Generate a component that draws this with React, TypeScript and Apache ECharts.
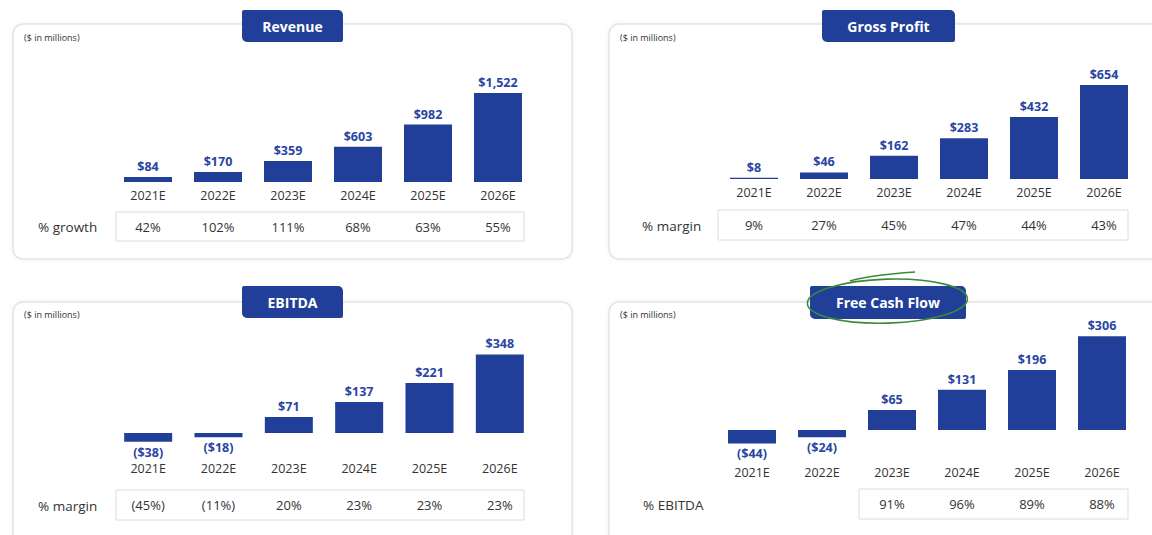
import React, { useEffect, useRef } from "react";
import * as echarts from "echarts";

const categories = ["2021E", "2022E", "2023E", "2024E", "2025E", "2026E"];
const revenue = [84, 170, 359, 603, 982, 1522];
const revenueGrowth = ["42%", "102%", "111%", "68%", "63%", "55%"];
const grossProfit = [8, 46, 162, 283, 432, 654];
const grossMargin = ["9%", "27%", "45%", "47%", "44%", "43%"];
const ebitda = [-38, -18, 71, 137, 221, 348];
const ebitdaMargin = ["(45%)", "(11%)", "20%", "23%", "23%", "23%"];
const freeCashFlow = [-44, -24, 65, 131, 196, 306];
const fcfConversion = ["", "", "91%", "96%", "89%", "88%"];

const BLUE = "#213f99";
const LABEL_BLUE = "#2a45a3";
const TEXT = "#333333";
const FONT = "'Open Sans', 'Noto Sans', sans-serif";

const panels = [
  {
    title: "Revenue", values: revenue, row: revenueGrowth, rowLabel: "% growth",
    grid: { left: 113, top: 70, width: 420, height: 112 }, min: 0, max: 1915,
    card: [13, 24, 559, 235], badge: [242, 10, 101, 32], table: [116, 212, 408, 29],
    rowLabelPos: [38, 227], noteY: 37, labelMargin: 7,
  },
  {
    title: "Gross Profit", values: grossProfit, row: grossMargin, rowLabel: "% margin",
    grid: { left: 719, top: 70, width: 420, height: 109 }, min: 0, max: 759,
    card: [609, 24, 600, 235], badge: [822, 10, 133, 32], table: [718, 210, 410, 30],
    rowLabelPos: [642, 226], noteY: 37, labelMargin: 7,
  },
  {
    title: "EBITDA", values: ebitda, row: ebitdaMargin, rowLabel: "% margin",
    grid: { left: 113, top: 320, width: 422, height: 138 }, min: -110, max: 500,
    card: [13, 302, 559, 260], badge: [242, 286, 101, 32], table: [116, 490, 408, 30],
    rowLabelPos: [38, 506], noteY: 314, labelMargin: 4,
  },
  {
    title: "Free Cash Flow", values: freeCashFlow, row: fcfConversion, rowLabel: "% EBITDA",
    grid: { left: 717, top: 320, width: 420, height: 143 }, min: -108, max: 359,
    card: [609, 302, 600, 260], badge: [810, 286, 156, 33], table: [859, 489, 269, 30],
    rowLabelPos: [643, 505], noteY: 314, labelMargin: 3,
  },
];

function fmt(v: number): string {
  const s = "$" + Math.abs(v).toLocaleString("en-US");
  return v < 0 ? "(" + s + ")" : s;
}

export default function App() {
  const ref = useRef<HTMLDivElement>(null);
  useEffect(() => {
    if (!ref.current) return;
    const chart = echarts.init(ref.current, undefined, { renderer: "svg" });
    const grids: any[] = [];
    const xAxes: any[] = [];
    const yAxes: any[] = [];
    const series: any[] = [];
    const graphics: any[] = [];

    panels.forEach((p, i) => {
      grids.push({ ...p.grid, containLabel: false });
      const gridBottom = p.grid.top + p.grid.height;
      const tableCenter = p.table[1] + p.table[3] / 2;
      xAxes.push({
        type: "category", gridIndex: i, data: categories, position: "bottom", z: 20,
        axisLine: { show: false, onZero: false }, axisTick: { show: false },
        axisLabel: { interval: 0, margin: p.labelMargin, color: TEXT, fontSize: 12.5, fontFamily: FONT },
      });
      xAxes.push({
        type: "category", gridIndex: i, data: p.row, position: "bottom", z: 20,
        offset: tableCenter - gridBottom,
        axisLine: { show: false, onZero: false }, axisTick: { show: false },
        axisLabel: { interval: 0, margin: 0, verticalAlign: "middle", color: TEXT, fontSize: 13, fontFamily: FONT },
      });
      yAxes.push({ type: "value", gridIndex: i, min: p.min, max: p.max, show: false, splitLine: { show: false } });
      series.push({
        type: "bar", xAxisIndex: i * 2, yAxisIndex: i, barWidth: 48, z: 20,
        itemStyle: { color: BLUE },
        data: p.values.map((v) => ({
          value: v,
          label: { position: v < 0 ? "bottom" : "top" },
        })),
        label: {
          show: true, distance: 4, color: LABEL_BLUE, fontWeight: "bold", fontSize: 12.5, fontFamily: FONT,
          formatter: (d: any) => fmt(d.value),
        },
      });

      const [cx, cy, cw, ch] = p.card;
      graphics.push({
        type: "rect", z: 0, shape: { x: cx, y: cy, width: cw, height: ch, r: 10 },
        style: { fill: "#ffffff", stroke: "#e4e4e4", lineWidth: 1.5, shadowBlur: 4, shadowColor: "rgba(0,0,0,0.06)" },
      });
      const [bx, by, bw, bh] = p.badge;
      graphics.push({
        type: "rect", z: 5, shape: { x: bx, y: by, width: bw, height: bh, r: [2, 5, 2, 5] },
        style: { fill: BLUE },
      });
      graphics.push({
        type: "text", z: 6, x: bx + bw / 2, y: by + bh / 2,
        style: { text: p.title, fill: "#ffffff", font: `bold 14px ${FONT}`, align: "center", verticalAlign: "middle" },
      });
      graphics.push({
        type: "text", z: 6, x: cx + 11, y: p.noteY,
        style: { text: "($ in millions)", fill: TEXT, font: `9px ${FONT}`, align: "left", verticalAlign: "middle" },
      });
      const [tx, ty, tw, th] = p.table;
      graphics.push({
        type: "rect", z: 1, shape: { x: tx, y: ty, width: tw, height: th },
        style: { fill: "none", stroke: "#dcdcdc", lineWidth: 1 },
      });
      graphics.push({
        type: "text", z: 6, x: p.rowLabelPos[0], y: p.rowLabelPos[1],
        style: { text: p.rowLabel, fill: TEXT, font: `13.5px ${FONT}`, align: "left", verticalAlign: "middle" },
      });
    });

    // hand-drawn green circle around "Free Cash Flow"
    graphics.push({
      type: "ellipse", z: 10, rotation: 0.03, originX: 887, originY: 301,
      shape: { cx: 887, cy: 301, rx: 80, ry: 22 },
      style: { fill: "none", stroke: "#3a8a3a", lineWidth: 1.6 },
    });
    graphics.push({
      type: "bezierCurve", z: 10,
      shape: { x1: 850, y1: 281, cpx1: 870, cpy1: 275, x2: 915, y2: 272 },
      style: { fill: "none", stroke: "#3a8a3a", lineWidth: 1.4 },
    });

    chart.setOption({
      animation: false,
      backgroundColor: "#ffffff",
      grid: grids,
      xAxis: xAxes,
      yAxis: yAxes,
      series,
      graphic: { elements: graphics },
    });
    return () => chart.dispose();
  }, []);
  return <div ref={ref} style={{ position: "fixed", left: 0, top: 0, width: 1152, height: 535 }} />;
}
